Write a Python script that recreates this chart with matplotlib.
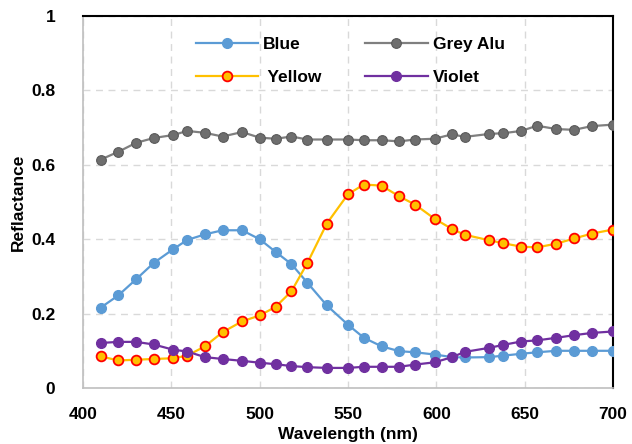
import matplotlib
matplotlib.use("Agg")
import matplotlib.pyplot as plt

wavelength = [410, 420, 430, 440, 451, 459, 469, 479, 490, 500, 509, 518, 527, 538,
              550, 559, 569, 579, 588, 599, 609, 616, 630, 638, 648, 657, 668, 678, 688, 700]
blue = [0.216, 0.249, 0.292, 0.336, 0.373, 0.398, 0.413, 0.424, 0.424, 0.400, 0.366, 0.333, 0.283, 0.222,
        0.170, 0.135, 0.112, 0.099, 0.096, 0.090, 0.083, 0.082, 0.083, 0.087, 0.092, 0.096, 0.100, 0.100, 0.100, 0.100]
grey_alu = [0.614, 0.635, 0.659, 0.672, 0.680, 0.691, 0.686, 0.676, 0.688, 0.673, 0.670, 0.676, 0.668, 0.668,
            0.668, 0.666, 0.666, 0.663, 0.668, 0.670, 0.682, 0.675, 0.683, 0.685, 0.691, 0.705, 0.696, 0.694, 0.704, 0.708]
yellow = [0.085, 0.074, 0.076, 0.078, 0.080, 0.087, 0.112, 0.150, 0.179, 0.195, 0.218, 0.260, 0.336, 0.442,
          0.521, 0.547, 0.544, 0.515, 0.493, 0.455, 0.427, 0.412, 0.397, 0.389, 0.380, 0.378, 0.388, 0.402, 0.415, 0.426]
violet = [0.121, 0.124, 0.124, 0.117, 0.103, 0.098, 0.083, 0.078, 0.073, 0.068, 0.064, 0.059, 0.056, 0.054,
          0.054, 0.057, 0.057, 0.057, 0.063, 0.069, 0.083, 0.097, 0.108, 0.116, 0.125, 0.128, 0.135, 0.142, 0.148, 0.152]

xticks = [400, 450, 500, 550, 600, 650, 700]
yticks = [0, 0.2, 0.4, 0.6, 0.8, 1]
ytick_labels = ["0", "0.2", "0.4", "0.6", "0.8", "1"]

plt.rcParams['font.family'] = ['Liberation Sans', 'DejaVu Sans']
plt.rcParams['font.weight'] = 'bold'

FS = 12.5

fig = plt.figure(figsize=(6.32, 4.44), dpi=100)
ax = fig.add_axes([83/632, 1 - 388/444, (613-83)/632, (388-16)/444])

ms = 7
lw = 1.6
h_blue, = ax.plot(wavelength, blue, color='#5B9BD5', lw=lw, marker='o', ms=ms,
                  markerfacecolor='#5B9BD5', markeredgecolor='#5B9BD5', label='Blue', zorder=3)
h_grey, = ax.plot(wavelength, grey_alu, color='#7F7F7F', lw=lw, marker='o', ms=ms,
                  markerfacecolor='#6E6E6E', markeredgecolor='#5A5A5A', markeredgewidth=0.8,
                  label='Grey Alu', zorder=3)
h_yel, = ax.plot(wavelength, yellow, color='#FFC000', lw=lw, marker='o', ms=ms,
                 markerfacecolor='#FFC000', markeredgecolor='#FF0000', markeredgewidth=1.3,
                 label=' Yellow', zorder=3)
h_vio, = ax.plot(wavelength, violet, color='#7030A0', lw=lw, marker='o', ms=ms,
                 markerfacecolor='#7030A0', markeredgecolor='#7030A0', label='Violet', zorder=3)

ax.set_xlim(400, 700)
ax.set_ylim(0, 1)
ax.set_xticks(xticks)
ax.set_yticks(yticks)
ax.set_yticklabels(ytick_labels)
ax.tick_params(axis='x', length=0, labelsize=FS, colors='black', pad=14)
ax.tick_params(axis='y', length=0, labelsize=FS, colors='black', pad=20)
for lab in ax.get_xticklabels() + ax.get_yticklabels():
    lab.set_fontweight('bold')

ax.grid(True, linestyle=(0, (5, 4)), color='#D9D9D9', lw=1.0, zorder=0)
ax.set_axisbelow(True)

ax.spines['left'].set_color('#BFBFBF')
ax.spines['bottom'].set_color('#BFBFBF')
ax.spines['left'].set_linewidth(1.2)
ax.spines['bottom'].set_linewidth(1.2)
ax.spines['top'].set_color('black')
ax.spines['right'].set_color('black')
ax.spines['top'].set_linewidth(1.5)
ax.spines['right'].set_linewidth(1.5)

ax.set_xlabel('Wavelength (nm)', fontsize=FS, fontweight='bold', labelpad=3)
ax.set_ylabel('Reflactance', fontsize=FS, fontweight='bold', labelpad=4)

leg = ax.legend([h_blue, h_yel, h_grey, h_vio],
                ['Blue', ' Yellow', 'Grey Alu', 'Violet'],
                loc='upper left', bbox_to_anchor=(0.183, 0.985), ncol=2, frameon=False,
                fontsize=FS, handlelength=3.6, columnspacing=2.5, handletextpad=0.3,
                labelspacing=1.0)
for t in leg.get_texts():
    t.set_fontweight('bold')

fig.savefig('out.png', dpi=100)
